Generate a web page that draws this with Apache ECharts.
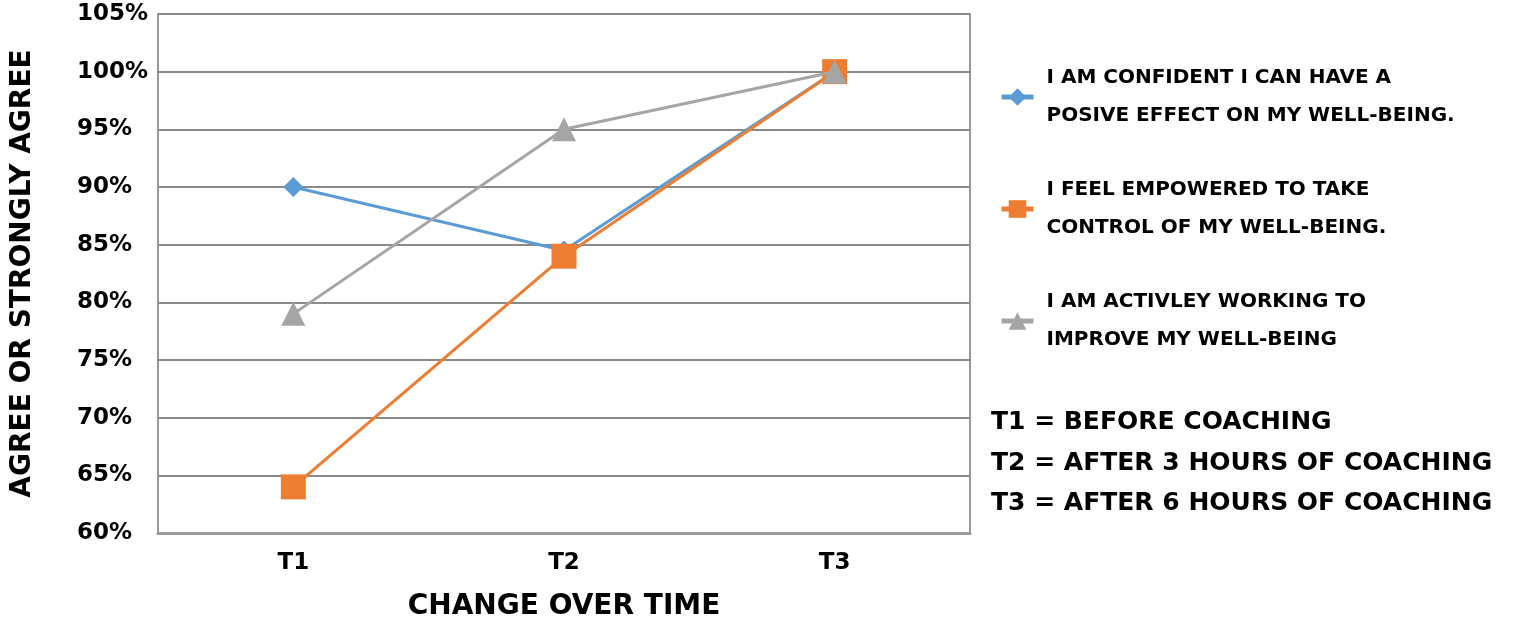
<!DOCTYPE html>
<html><head><meta charset="utf-8">
<script src="https://cdn.jsdelivr.net/npm/echarts@6/dist/echarts.min.js"></script>
<style>html,body{margin:0;padding:0;background:#fff}#c{width:1517px;height:620px}</style>
</head><body><div id="c"></div>
<script>
const categories = ['T1', 'T2', 'T3'];
const seriesNames = [
  'I AM CONFIDENT I CAN HAVE A POSIVE EFFECT ON MY WELL-BEING.',
  'I FEEL EMPOWERED TO TAKE CONTROL OF MY WELL-BEING.',
  'I AM ACTIVLEY WORKING TO IMPROVE MY WELL-BEING'
];
const legendLines = [
  'I AM CONFIDENT I CAN HAVE A\nPOSIVE EFFECT ON MY WELL-BEING.',
  'I FEEL EMPOWERED TO TAKE\nCONTROL OF MY WELL-BEING.',
  'I AM ACTIVLEY WORKING TO\nIMPROVE MY WELL-BEING'
];
const confident = [0.90, 0.845, 1.00];
const empowered = [0.64, 0.84, 1.00];
const working = [0.79, 0.95, 1.00];
const notes = ['T1 = BEFORE COACHING', 'T2 = AFTER 3 HOURS OF COACHING', 'T3 = AFTER 6 HOURS OF COACHING'];
const yTitle = 'AGREE OR STRONGLY AGREE';
const xTitle = 'CHANGE OVER TIME';

const FONT = '"DejaVu Sans", sans-serif';
const chart = echarts.init(document.getElementById('c'), null, {renderer: 'canvas'});
const colors = ['#5B9BD5', '#ED7D31', '#A5A5A5'];
const symbols = ['diamond', 'rect', 'triangle'];
const sizes = [20, 25, 24];
const zs = [2, 3, 4];
const datas = [confident, empowered, working];

chart.setOption({
  animation: false,
  grid: {left: 158, right: 547, top: 14, bottom: 87, show: true, borderColor: '#9a9a9a', borderWidth: 2,
    containLabel: false, outerBoundsMode: 'none'},
  xAxis: {
    type: 'category', data: categories, boundaryGap: true,
    axisLine: {show: true, lineStyle: {color: '#9a9a9a', width: 3}},
    axisTick: {show: false},
    axisLabel: {color: '#000', fontFamily: FONT, fontWeight: 'bold', fontSize: 23, margin: 19},
    name: xTitle, nameLocation: 'middle', nameGap: 60,
    nameTextStyle: {color: '#000', fontFamily: FONT, fontWeight: 'bold', fontSize: 28}
  },
  yAxis: {
    type: 'value', min: 0.60, max: 1.05, interval: 0.05,
    axisLine: {show: false}, axisTick: {show: false},
    splitLine: {lineStyle: {color: '#8a8a8a', width: 2}},
    axisLabel: {color: '#000', fontFamily: FONT, fontWeight: 'bold', fontSize: 23, align: 'left', margin: 81,
      formatter: v => Math.round(v * 100) + '%'},
    name: yTitle, nameLocation: 'middle', nameGap: 121, nameRotate: 90,
    nameTextStyle: {color: '#000', fontFamily: FONT, fontWeight: 'bold', fontSize: 28}
  },
  legend: {
    orient: 'vertical', left: 994, top: 54, itemGap: 36, itemWidth: 32, itemHeight: 22,
    data: seriesNames,
    formatter: name => legendLines[seriesNames.indexOf(name)],
    lineStyle: {width: 5},
    textStyle: {color: '#000', fontFamily: FONT, fontWeight: 'bold', fontSize: 20, lineHeight: 38, padding: [0, 0, 0, 8]}
  },
  graphic: notes.map((t, i) => ({
    type: 'text', left: 991, top: 410 + i * 40.5,
    style: {text: t, fill: '#000', font: 'bold 25px ' + FONT}
  })),
  series: datas.map((d, i) => ({
    type: 'line', name: seriesNames[i], data: d,
    symbol: symbols[i], symbolSize: sizes[i], z: zs[i],
    lineStyle: {color: colors[i], width: 3},
    itemStyle: {color: colors[i]}
  }))
});
</script></body></html>
